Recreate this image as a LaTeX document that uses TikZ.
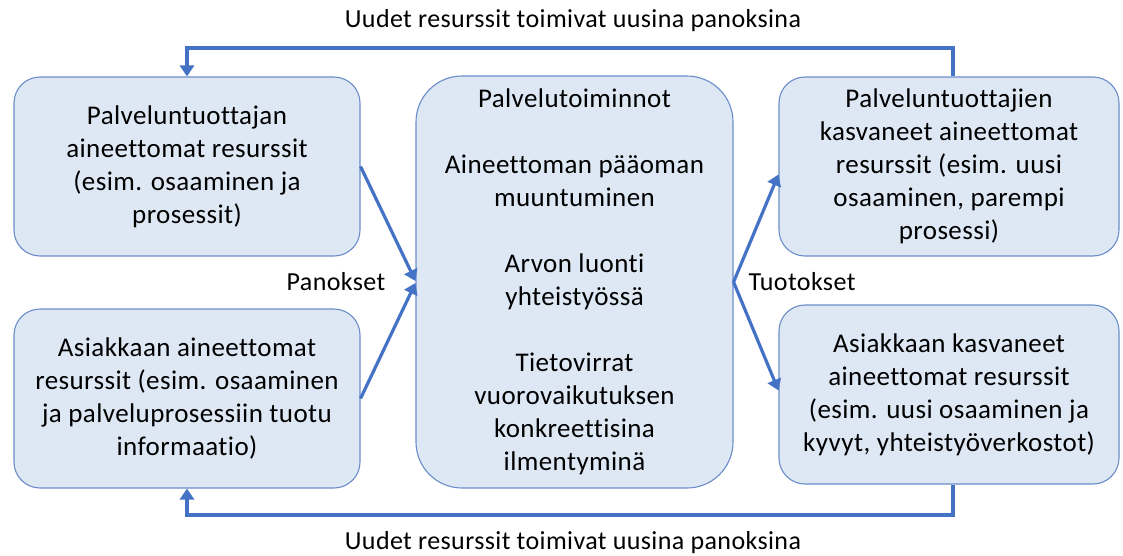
\documentclass[tikz,border=0pt]{standalone}
\usepackage{fontspec}
\setmainfont{Carlito}[LetterSpace=1.5,Ligatures=NoCommon]
\usetikzlibrary{arrows.meta}
\definecolor{boxfill}{HTML}{DEE8F5}
\definecolor{boxline}{HTML}{6A8CC8}
\definecolor{flowblue}{HTML}{4472C4}
\begin{document}
\begin{tikzpicture}[x=1pt,y=-1pt,
  every node/.style={font=\fontsize{27}{33}\selectfont, align=center, inner sep=0pt},
  labeltext/.style={font=\fontsize{26}{30}\selectfont},
  resbox/.style={draw=boxline, line width=1.1pt, fill=boxfill, rounded corners=26pt,
    minimum width=#1, minimum height=179pt},
  flow/.style={draw=flowblue, line width=3.2pt,
    -{Triangle[width=14pt,length=11pt]}}]
\useasboundingbox (0,0) rectangle (1123,555);

% resource boxes
\node[resbox=346pt] (tl) at (187,166.5)
  {Palveluntuottajan\\aineettomat resurssit\\(esim. osaaminen ja\\prosessit)};
\node[resbox=346pt] (bl) at (187,398.5)
  {Asiakkaan aineettomat\\resurssit (esim. osaaminen\\ja palveluprosessiin tuotu\\informaatio)};
\node[resbox=340pt] (tr) at (949,166.5)
  {Palveluntuottajien\\kasvaneet aineettomat\\resurssit (esim. uusi\\osaaminen, parempi\\prosessi)};
\node[resbox=340pt] (br) at (949,394.5)
  {Asiakkaan kasvaneet\\aineettomat resurssit\\(esim. uusi osaaminen ja\\kyvyt, yhteistyöverkostot)};

% central service activities
\node[draw=boxline, line width=1.1pt, fill=boxfill, rounded corners=46pt,
  minimum width=317pt, minimum height=412pt] (ctr) at (574.5,282)
  {Palvelutoiminnot\\[33pt]Aineettoman pääoman\\muuntuminen\\[33pt]Arvon luonti\\yhteistyössä\\[33pt]Tietovirrat\\vuorovaikutuksen\\konkreettisina\\ilmentyminä};

% labels
\node[labeltext] (ttop) at (573,21) {Uudet resurssit toimivat uusina panoksina};
\node[labeltext] (tbot) at (573,543) {Uudet resurssit toimivat uusina panoksina};
\node[labeltext] (pan) at (336,282) {Panokset};
\node[labeltext] (tuo) at (802,282) {Tuotokset};

% inputs and outputs
\draw[flow] (tl.east) -- ([yshift=1pt]ctr.west);
\draw[flow] (bl.east) -- ([yshift=-1pt]ctr.west);
\draw[flow] (ctr.east) -- ([yshift=-8pt]tr.west);
\draw[flow] (ctr.east) -- ([yshift=4pt]br.west);

% feedback loops
\coordinate (topy) at (0,48);
\coordinate (boty) at (0,515);
\draw[flow] ([xshift=4pt]tr.north) -- ([xshift=4pt]tr.north |- topy) -| (tl.north);
\draw[flow] ([xshift=4pt]br.south) -- ([xshift=4pt]br.south |- boty) -| (bl.south);
\end{tikzpicture}
\end{document}
